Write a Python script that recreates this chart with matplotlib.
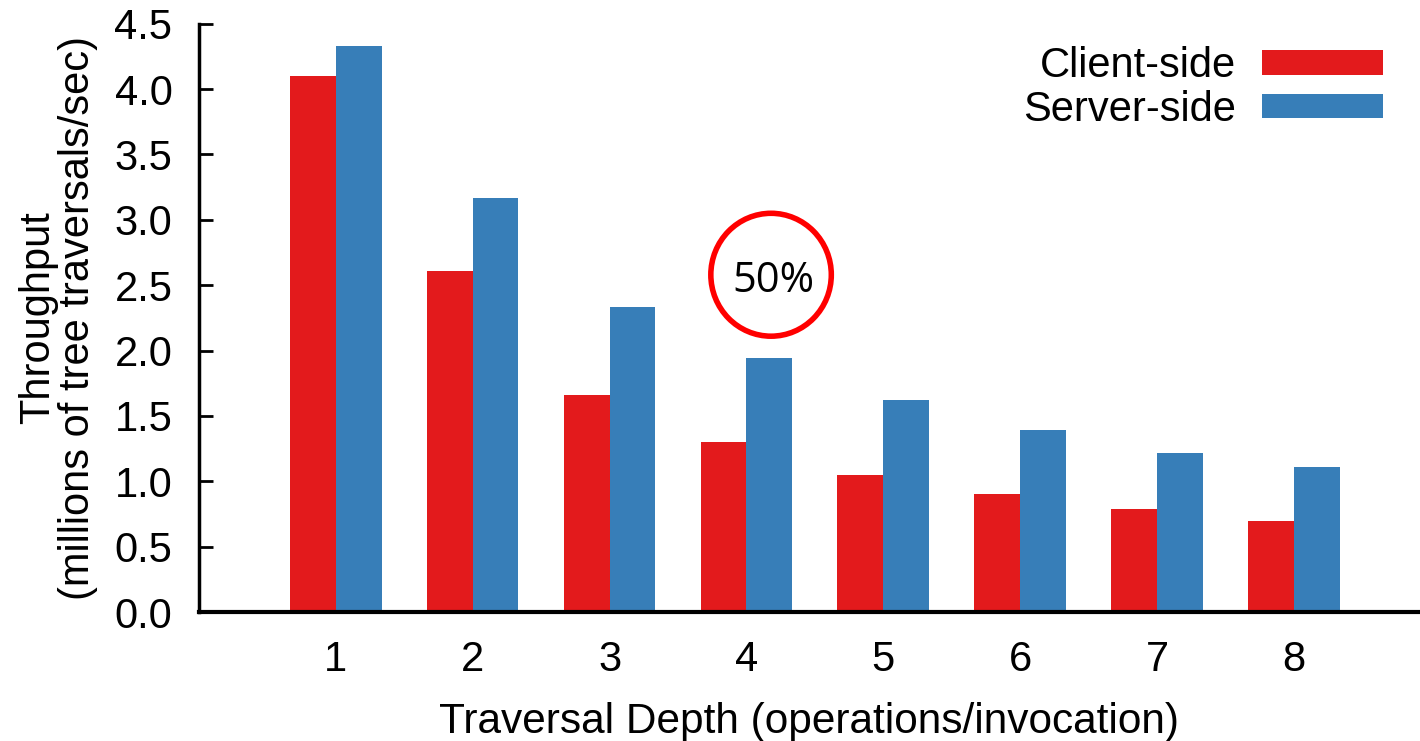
import matplotlib.pyplot as plt
import numpy as np
from matplotlib.patches import Ellipse

plt.rcParams['font.family'] = ['Liberation Sans', 'DejaVu Sans']

# traversal depth and throughput (millions of traversals/sec)
depths = [1, 2, 3, 4, 5, 6, 7, 8]
client_side = [4.10, 2.61, 1.66, 1.30, 1.05, 0.90, 0.79, 0.70]
server_side = [4.33, 3.17, 2.33, 1.94, 1.62, 1.39, 1.22, 1.11]
yticks = [0.0, 0.5, 1.0, 1.5, 2.0, 2.5, 3.0, 3.5, 4.0, 4.5]

red = '#e31a1c'
blue = '#377eb8'
width = 0.335
fs = 30

fig = plt.figure(figsize=(14.2, 7.41), dpi=100)
ax = fig.add_axes([0.140, 0.174, 0.860, 0.794])

x = np.array(depths)
ax.bar(x - width / 2, client_side, width, color=red, label='Client-side')
ax.bar(x + width / 2, server_side, width, color=blue, label='Server-side')

ax.set_xlim(0, 8.92)
ax.set_ylim(0, 4.5)
ax.set_xticks(depths)
ax.set_yticks(yticks)
ax.set_yticklabels([f'{v:.1f}' for v in yticks])

for side in ['top', 'right']:
    ax.spines[side].set_visible(False)
ax.spines['left'].set_linewidth(2.5)
ax.spines['bottom'].set_linewidth(3)
ax.tick_params(axis='y', direction='in', length=10, width=2, labelsize=fs, pad=19)
ax.tick_params(axis='x', length=0, labelsize=fs, pad=20)

ax.set_xlabel('Traversal Depth (operations/invocation)', fontsize=30.5, labelpad=16)
ax.set_ylabel('Throughput\n(millions of tree traversals/sec)', fontsize=fs,
              labelpad=12, linespacing=1.0)

# highlight the gap at depth 4
ax.add_patch(Ellipse((4.18, 2.58), 0.88, 0.94, fill=False, edgecolor='#ff0000',
                     linewidth=4, clip_on=False))
ax.text(4.20, 2.53, '50%', fontsize=30, family=['Open Sans', 'DejaVu Sans'],
        ha='center', va='center')

ax.legend(loc='upper right', bbox_to_anchor=(0.983, 0.99), frameon=False,
          fontsize=fs, markerfirst=False, handlelength=2.9, handleheight=0.53,
          handletextpad=0.62, labelspacing=0.08, borderaxespad=0)

fig.savefig('out.png', dpi=100)
